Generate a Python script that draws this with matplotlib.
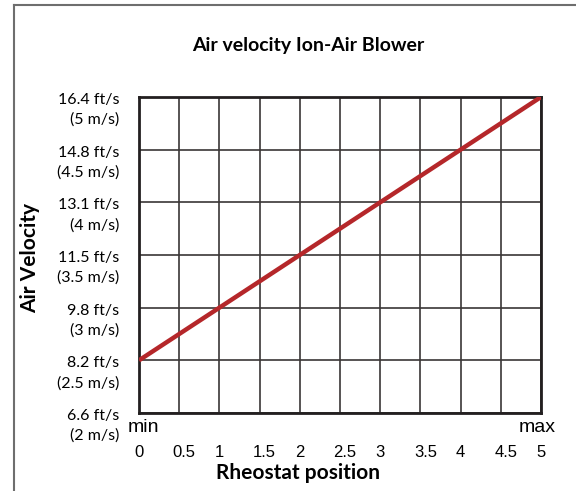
import matplotlib
matplotlib.use("Agg")
import matplotlib.pyplot as plt
import matplotlib.transforms as mtransforms
from matplotlib.lines import Line2D

# data (rheostat position vs air velocity in m/s)
position = [0, 5]
velocity_ms = [2.5, 5.0]

x_ticks = [0, 0.5, 1, 1.5, 2, 2.5, 3, 3.5, 4, 4.5, 5]
x_labels = ["0", "0.5", "1", "1.5", "2", "2.5", "3", "3.5", "4", "4.5", "5"]
y_ticks = [2, 2.5, 3, 3.5, 4, 4.5, 5]
y_labels = ["6.6 ft/s\n(2 m/s)", "8.2 ft/s\n(2.5 m/s)", "9.8 ft/s\n(3 m/s)",
            "11.5 ft/s\n(3.5 m/s)", "13.1 ft/s\n(4 m/s)", "14.8 ft/s\n(4.5 m/s)",
            "16.4 ft/s\n(5 m/s)"]

W, H = 576, 491
fig = plt.figure(figsize=(W / 100, H / 100), dpi=100)
ax = fig.add_axes([139 / W, 1 - 413 / H, 402 / W, 316 / H])

ax.plot(position, velocity_ms, color="#b5272a", lw=3.2, solid_capstyle="butt", zorder=3)

def shift(px, py):
    return mtransforms.ScaledTranslation(px / 100, py / 100, fig.dpi_scale_trans)

ax.set_xlim(0, 5)
ax.set_ylim(2, 5)
ax.set_xticks(x_ticks)
ax.set_xticklabels(x_labels, fontfamily="Liberation Sans", fontsize=12)
ax.set_yticks(y_ticks)
ax.set_yticklabels(y_labels, fontfamily="Lato", fontsize=11.5, linespacing=1.5,
                   va="top", ha="right", multialignment="right")
ax.tick_params(length=0)
ax.tick_params(axis="x", pad=23)
ax.tick_params(axis="y", pad=14)

for lab in ax.get_yticklabels():
    lab.set_transform(lab.get_transform() + shift(0, 4))

# half-step labels sit a bit to the right in the original
for lab, t in zip(ax.get_xticklabels(), x_ticks):
    if t % 1:
        lab.set_transform(lab.get_transform() + shift(5, 0))

ax.grid(True, color="#3a3636", lw=1.2)
ax.set_axisbelow(True)
for s in ax.spines.values():
    s.set_color("#231f20")
    s.set_linewidth(2)

trans = ax.get_xaxis_transform()
ax.text(0, -0.02, "min", transform=trans + shift(4, 0), ha="center", va="top",
        fontfamily="Liberation Sans", fontsize=14)
ax.text(5, -0.02, "max", transform=trans + shift(-4, 0), ha="center", va="top",
        fontfamily="Liberation Sans", fontsize=14)

fig.text(308 / W, 1 - 45 / H, "Air velocity Ion-Air Blower", ha="center", va="center",
         fontfamily="Lato", fontweight="bold", fontsize=14)
fig.text(298 / W, 1 - 473 / H, "Rheostat position", ha="center", va="center",
         fontfamily="Lato", fontweight="bold", fontsize=15)
fig.text(30 / W, 1 - 258 / H, "Air Velocity", ha="center", va="center", rotation=90,
         fontfamily="Lato", fontweight="bold", fontsize=15)

# outer frame (top and left only are visible)
fig.add_artist(Line2D([14 / W, 14 / W], [0, 1 - 5 / H], transform=fig.transFigure,
                      color="#6e6e6e", lw=1.5))
fig.add_artist(Line2D([14 / W, 1], [1 - 5 / H, 1 - 5 / H], transform=fig.transFigure,
                      color="#6e6e6e", lw=1.5))

fig.savefig("out.png", dpi=100)
